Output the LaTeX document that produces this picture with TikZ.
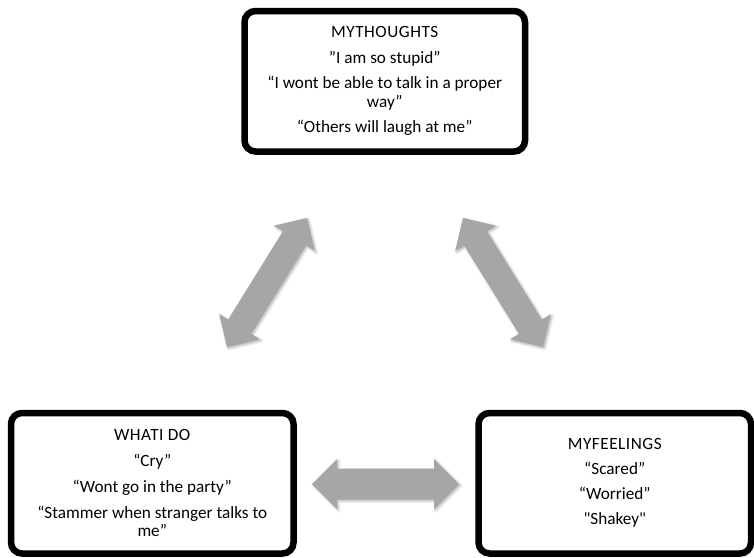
\documentclass[tikz,border=0pt]{standalone}
\usepackage{fontspec}
\setmainfont{Carlito}
\usetikzlibrary{shadows.blur}
\definecolor{arrowgray}{HTML}{A6A6A6}
% a plain typewriter double quote, kept out of the TeX quote mapping
\newcommand\plaindq{\XeTeXglyph\XeTeXcharglyph"22\relax}
\newcommand\headline[1]{{\addfontfeature{LetterSpace=3}#1}}
\begin{document}
\begin{tikzpicture}[x=1pt,y=-1pt,
  panel/.style={draw=black, line width=6.5pt, rounded corners=11pt, fill=white,
    align=center, inner sep=0pt, font=\fontsize{17.2}{18.5}\selectfont,
    blur shadow={shadow xshift=1.5pt, shadow yshift=-1.5pt,
      shadow blur radius=2.5pt, shadow opacity=35}},
  % two-headed block arrow: total length, shaft width, head width
  pics/twoway/.style n args={3}{code={
    \fill[arrowgray, blur shadow={shadow xshift=1.5pt, shadow yshift=-1.5pt,
        shadow blur radius=2.5pt, shadow opacity=30}]
      ({-#1/2},0) -- ({-#1/2+#3/2},{-#3/2}) -- ({-#1/2+#3/2},{-#2/2})
      -- ({#1/2-#3/2},{-#2/2}) -- ({#1/2-#3/2},{-#3/2}) -- ({#1/2},0)
      -- ({#1/2-#3/2},{#3/2}) -- ({#1/2-#3/2},{#2/2})
      -- ({-#1/2+#3/2},{#2/2}) -- ({-#1/2+#3/2},{#3/2}) -- cycle;
  }}
]
\useasboundingbox (0,0) rectangle (754,557);

% three panels
\node[panel, minimum width=280.5pt, minimum height=140.5pt] (thoughts) at (384.75,81.25)
  {\headline{MYTHOUGHTS}\\[7pt]
   ”I am so stupid”\\[7pt]
   “I wont be able to talk in a proper\\ way”\\[7pt]
   “Others will laugh at me”};

\node[panel, minimum width=282.5pt, minimum height=140.5pt] (doing) at (152.25,483.25)
  {\headline{WHATI DO}\\[7.5pt]
   “Cry”\\[7.5pt]
   “Wont go in the party”\\[7pt]
   “Stammer when stranger talks to\\ me”};

\node[panel, minimum width=272.5pt, minimum height=140.5pt] (feelings) at (614.75,483.25)
  {\headline{MYFEELINGS}\\[6.5pt]
   “Scared”\\[6.5pt]
   “Worried”\\[6.5pt]
   \plaindq Shakey\plaindq};

% block arrows between the panels
\pic (left)  [rotate=58.2]  at (267,282.5) {twoway={152}{27}{48}};
\pic (right) [rotate=-58.2] at (503,282.5) {twoway={152}{27}{48}};
\pic (base)                 at (385.5,484) {twoway={147}{31}{50}};
\end{tikzpicture}
\end{document}
